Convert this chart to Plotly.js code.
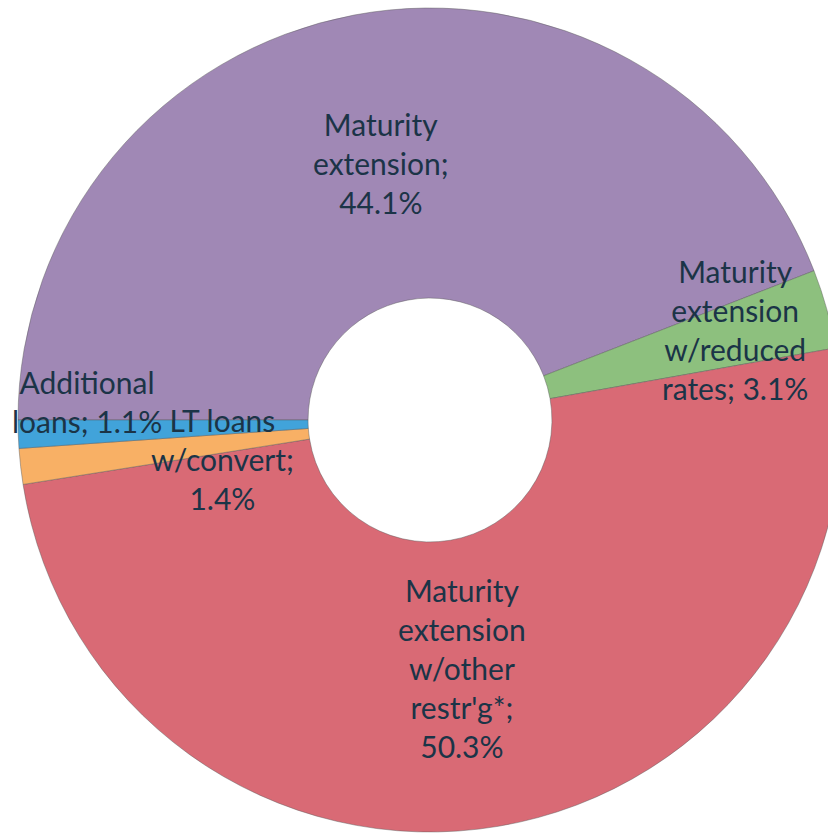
<!DOCTYPE html>
<html>
<head>
<meta charset="utf-8">
<script src="https://cdn.plot.ly/plotly-3.0.1.min.js"></script>
<style>
  html, body { margin: 0; padding: 0; overflow: hidden; background: #fff; }
  #chart { width: 860px; height: 840px; }
</style>
</head>
<body>
<div id="chart"></div>
<script>
// ---- data ----
const categories = [
  "Maturity extension",
  "Maturity extension w/reduced rates",
  "Maturity extension w/other restr'g*",
  "LT loans w/convert",
  "Additional loans"
];
const labelTexts = [
  "Maturity<br>extension;<br>44.1%",
  "Maturity<br>extension<br>w/reduced<br>rates; 3.1%",
  "Maturity<br>extension<br>w/other<br>restr'g*;<br>50.3%",
  "LT loans<br>w/convert;<br>1.4%",
  "Additional<br>loans; 1.1%"
];
const values = [44.1, 3.1, 50.3, 1.4, 1.1];

// ---- style ----
const colors = ["#A088B5", "#8DC07E", "#D96A75", "#F8B065", "#41A3DA"];
const W = 860, H = 840;
const cx = 430, cy = 420, R = 412;
const HOLE = 0.296;
const ROT = -90;
// label nudges (px) relative to the ring centre of each slice
const labelDx = [0, 48, -12, 58, -76];
const labelDy = [5, -18, -15, 9, -28];

const total = values.reduce((a, b) => a + b, 0);
const rl = R * (1 + HOLE) / 2;
let acc = ROT < 0 ? ROT + 360 : ROT;
const annotations = values.map((v, i) => {
  const span = v / total * 360;
  const mid = (acc + span / 2) * Math.PI / 180;
  acc += span;
  const px = cx + rl * Math.sin(mid) + labelDx[i];
  const py = cy - rl * Math.cos(mid) + labelDy[i];
  return {
    x: px / W, y: 1 - py / H, xref: "paper", yref: "paper",
    xanchor: "center", yanchor: "middle", align: "center",
    text: labelTexts[i], showarrow: false,
    font: { family: "Lato, 'Open Sans', sans-serif", size: 30, color: "#1B3447" }
  };
});

const trace = {
  type: "pie",
  labels: categories,
  values: values,
  hole: HOLE,
  sort: false,
  direction: "clockwise",
  rotation: ROT,
  textinfo: "none",
  hoverinfo: "label+percent",
  marker: { colors: colors, line: { color: "rgba(90,90,90,0.45)", width: 1 } },
  domain: { x: [(cx - R) / W, (cx + R) / W], y: [(H - (cy + R)) / H, (H - (cy - R)) / H] },
  showlegend: false
};

Plotly.newPlot("chart", [trace], {
  width: W, height: H,
  margin: { l: 0, r: 0, t: 0, b: 0, pad: 0 },
  paper_bgcolor: "#fff",
  showlegend: false,
  annotations: annotations
}, { displayModeBar: false, staticPlot: true });
</script>
</body>
</html>
